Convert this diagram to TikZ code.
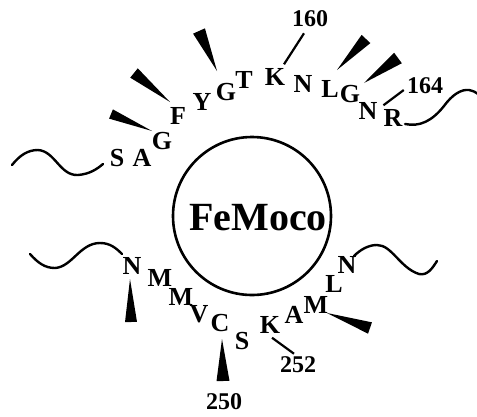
\documentclass[tikz,border=0pt]{standalone}
\usepackage{fontspec}
\setmainfont{Liberation Serif}
\usetikzlibrary{calc}
\newcommand\stereowedge[3]{\fill (#1) -- ($(#2)!#3!90:(#1)$) -- ($(#2)!#3!-90:(#1)$) -- cycle;}
\begin{document}
\begin{tikzpicture}[x=1pt,y=-1pt,
  res/.style={inner sep=0pt,font=\bfseries\fontsize{26}{26}\selectfont},
  lab/.style={inner sep=0pt,font=\bfseries\fontsize{24}{24}\selectfont},
  chain/.style={line width=2.4pt,line cap=round},
  tick/.style={line width=2.2pt}]
\useasboundingbox (0,0) rectangle (477,416);
% cofactor
\node[circle,draw,line width=2.6pt,minimum size=158pt,inner sep=0pt] (fe) at (252,216) {};
\node[inner sep=0pt,font=\bfseries\fontsize{40}{40}\selectfont] (femoco) at (258,218) {FeMoco};
% top strand residues
\node[res] (tS) at (117,158) {S};
\node[res] (tA) at (142,158) {A};
\node[res] (tG1) at (162,141) {G};
\node[res] (tF) at (178,116) {F};
\node[res] (tY) at (202,102) {Y};
\node[res] (tG2) at (226,92) {G};
\node[res] (tT) at (244,80) {T};
\node[res] (tK) at (275,77) {K};
\node[res] (tN1) at (303,84) {N};
\node[res] (tL) at (330,89) {L};
\node[res] (tG3) at (350,94) {G};
\node[res] (tN2) at (368,111) {N};
\node[res] (tR) at (393,118) {R};
% bottom strand residues
\node[res] (bN1) at (132,266) {N};
\node[res] (bM1) at (160,278) {M};
\node[res] (bM2) at (181,297) {M};
\node[res] (bV) at (199,314) {V};
\node[res] (bC) at (220,323) {C};
\node[res] (bS) at (242,341) {S};
\node[res] (bK) at (270,325) {K};
\node[res] (bA) at (294,315) {A};
\node[res] (bM3) at (316,305) {M};
\node[res] (bL) at (334,284) {L};
\node[res] (bN2) at (347,265) {N};
% numbers
\node[lab] (n160) at (310,19) {160};
\node[lab] (n164) at (425,86) {164};
\node[lab] (n250) at (224,402) {250};
\node[lab] (n252) at (298,365) {252};
\draw[tick] ($(n160.south)+(-6,6)$) -- ($(tK.north)+(9,-4)$);
\draw[tick] ($(n164.west)+(-3,4)$) -- ($(tR.north west)+(0,-4)$);
\draw[tick] ($(n252.north)+(-4,-3)$) -- ($(bK.south)+(2,4)$);
% wedges
\coordinate (w1t) at (152,131); \coordinate (w1b) at (111,114);
\coordinate (w2t) at (170,102); \coordinate (w2b) at (134,73);
\coordinate (w3t) at (217,71);  \coordinate (w3b) at (199,31);
\coordinate (w4t) at (337,70);  \coordinate (w4b) at (366,39);
\coordinate (w5t) at (364,83);  \coordinate (w5b) at (398,58);
\coordinate (w6t) at (130,279); \coordinate (w6b) at (131,322);
\coordinate (w7t) at (222,339); \coordinate (w7b) at (223,381);
\coordinate (w8t) at (327,313); \coordinate (w8b) at (370,328);
\stereowedge{w1t}{w1b}{5pt}
\stereowedge{w2t}{w2b}{6pt}
\stereowedge{w3t}{w3b}{6.5pt}
\stereowedge{w4t}{w4b}{6pt}
\stereowedge{w5t}{w5b}{6.5pt}
\stereowedge{w6t}{w6b}{6pt}
\stereowedge{w7t}{w7b}{6.5pt}
\stereowedge{w8t}{w8b}{6pt}
% chain continuations
\coordinate (c1) at (103,164);
\draw[chain] (12,165) .. controls (20,155) and (28,150) .. (38,150)
  .. controls (55,151) and (60,176) .. (78,175)
  .. controls (90,174) and (97,169) .. (c1);
\coordinate (c2) at (405,124);
\draw[chain] (c2) .. controls (420,127) and (432,121) .. (444,106)
  .. controls (452,95) and (461,89) .. (469,90)
  .. controls (473,91) and (476,92) .. (478,94);
\coordinate (c3) at (122,254);
\draw[chain] (30,254) .. controls (38,263) and (45,268) .. (55,268)
  .. controls (72,267) and (80,243) .. (100,243)
  .. controls (110,243) and (116,248) .. (c3);
\coordinate (c4) at (354,256);
\draw[chain] (c4) .. controls (360,250) and (368,245) .. (377,245)
  .. controls (392,245) and (400,268) .. (419,274)
  .. controls (428,276) and (433,267) .. (437,261);
\end{tikzpicture}
\end{document}
